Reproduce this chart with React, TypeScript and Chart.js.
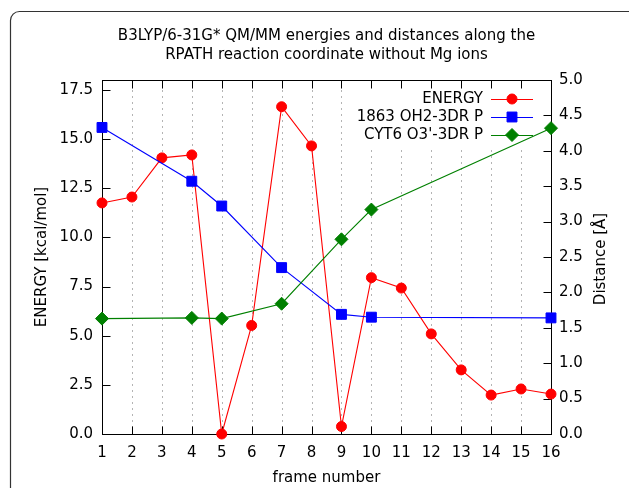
import React, { useEffect, useRef } from 'react';
import { Chart, registerables } from 'chart.js';

Chart.register(...registerables);

const FONT_FAMILY = "'DejaVu Sans', sans-serif";

const titleLines = [
  'B3LYP/6-31G* QM/MM energies and distances along the',
  'RPATH reaction coordinate without Mg ions',
];
const xAxisTitle = 'frame number';
const yAxisTitle = 'ENERGY [kcal/mol]';
const y2AxisTitle = 'Distance [Å]';

const frames = [1, 2, 3, 4, 5, 6, 7, 8, 9, 10, 11, 12, 13, 14, 15, 16];
const energy = [11.75, 12.05, 14.04, 14.19, 0.0, 5.52, 16.64, 14.65, 0.38, 7.95, 7.42, 5.09, 3.26, 1.98, 2.29, 2.03];

const distFrames = [1, 4, 5, 7, 9, 10, 16];
const dist1863 = [4.33, 3.57, 3.22, 2.35, 1.69, 1.65, 1.64];
const distCyt6 = [1.63, 1.64, 1.63, 1.84, 2.75, 3.17, 4.32];

const seriesLabels = ['ENERGY', '1863 OH2-3DR P', "CYT6 O3'-3DR P"];
const seriesColors = ['#ff0000', '#0000ff', '#008000'];
const seriesPointStyles = ['circle', 'rect', 'rectRot'];

const energyTicks = [0, 2.5, 5, 7.5, 10, 12.5, 15, 17.5];
const distanceTicks = [0, 0.5, 1, 1.5, 2, 2.5, 3, 3.5, 4, 4.5, 5];

const W = 629;
const H = 488;

function drawMarker(ctx: CanvasRenderingContext2D, style: string, x: number, y: number, color: string) {
  ctx.save();
  ctx.fillStyle = color;
  ctx.strokeStyle = color;
  ctx.lineWidth = 1;
  ctx.beginPath();
  if (style === 'circle') {
    ctx.arc(x, y, 5, 0, Math.PI * 2);
  } else if (style === 'rect') {
    const s = 7 * Math.SQRT1_2;
    ctx.rect(x - s, y - s, 2 * s, 2 * s);
  } else {
    const r = 6.5;
    ctx.moveTo(x, y - r);
    ctx.lineTo(x + r, y);
    ctx.lineTo(x, y + r);
    ctx.lineTo(x - r, y);
    ctx.closePath();
  }
  ctx.fill();
  ctx.stroke();
  ctx.restore();
}

const decorPlugin = {
  id: 'decor',
  beforeDraw(chart: any) {
    const ctx: CanvasRenderingContext2D = chart.ctx;
    ctx.save();
    ctx.fillStyle = '#ffffff';
    ctx.fillRect(0, 0, W, H);
    ctx.strokeStyle = '#333333';
    ctx.lineWidth = 1.2;
    ctx.beginPath();
    (ctx as any).roundRect(10.5, 11.5, 630, 520, 9);
    ctx.stroke();
    ctx.restore();
  },
  beforeDatasetsDraw(chart: any) {
    const ctx: CanvasRenderingContext2D = chart.ctx;
    const { left, right, top, bottom } = chart.chartArea;
    const xs = chart.scales.x;
    const ys = chart.scales.y;
    const y2s = chart.scales.y2;
    ctx.save();
    ctx.strokeStyle = '#b4b4b4';
    ctx.lineWidth = 1;
    ctx.setLineDash([2, 4]);
    frames.forEach((f) => {
      if (f === frames[0] || f === frames[frames.length - 1]) return;
      const x = Math.round(xs.getPixelForValue(f)) + 0.5;
      const inKey = x > 350 && x < 548;
      const yTop = inKey ? 146 : top;
      ctx.beginPath();
      ctx.moveTo(x, bottom);
      ctx.lineTo(x, yTop);
      ctx.stroke();
    });
    ctx.setLineDash([]);
    ctx.strokeStyle = '#000000';
    ctx.lineWidth = 1;
    const l = Math.round(left) + 0.5;
    const r = Math.round(right) + 0.5;
    const t = Math.round(top) + 0.5;
    const b = Math.round(bottom) + 0.5;
    ctx.strokeRect(l, t, r - l, b - t);
    const tl = 8;
    ctx.beginPath();
    frames.forEach((f) => {
      const x = Math.round(xs.getPixelForValue(f)) + 0.5;
      ctx.moveTo(x, b);
      ctx.lineTo(x, b - tl);
      ctx.moveTo(x, t);
      ctx.lineTo(x, t + tl);
    });
    energyTicks.forEach((v) => {
      const y = Math.round(ys.getPixelForValue(v)) + 0.5;
      ctx.moveTo(l, y);
      ctx.lineTo(l + tl, y);
    });
    distanceTicks.forEach((v) => {
      const y = Math.round(y2s.getPixelForValue(v)) + 0.5;
      ctx.moveTo(r, y);
      ctx.lineTo(r - tl, y);
    });
    ctx.stroke();
    ctx.restore();
  },
  afterDraw(chart: any) {
    const ctx: CanvasRenderingContext2D = chart.ctx;
    const { left, right, top, bottom } = chart.chartArea;
    const cx = (left + right) / 2;
    const cy = (top + bottom) / 2;
    ctx.save();
    ctx.fillStyle = '#000000';
    ctx.font = `15px ${FONT_FAMILY}`;
    ctx.textAlign = 'center';
    ctx.textBaseline = 'middle';
    ctx.fillText(titleLines[0], cx, 36);
    ctx.fillText(titleLines[1], cx, 55);
    ctx.fillText(xAxisTitle, cx, 478);
    ctx.save();
    ctx.translate(42, cy);
    ctx.rotate(-Math.PI / 2);
    ctx.fillText(yAxisTitle, 0, 0);
    ctx.restore();
    ctx.save();
    ctx.translate(601, cy + 2);
    ctx.rotate(-Math.PI / 2);
    ctx.fillText(y2AxisTitle, 0, 0);
    ctx.restore();
    const rowsY = [99, 117, 135];
    seriesLabels.forEach((label, i) => {
      const y = rowsY[i];
      ctx.textAlign = 'right';
      ctx.fillStyle = '#000000';
      ctx.fillText(label, 483, y);
      ctx.strokeStyle = seriesColors[i];
      ctx.lineWidth = 1;
      ctx.beginPath();
      ctx.moveTo(491, Math.round(y) + 0.5);
      ctx.lineTo(533, Math.round(y) + 0.5);
      ctx.stroke();
      drawMarker(ctx, seriesPointStyles[i], 512, y, seriesColors[i]);
    });
    ctx.restore();
  },
};

export default function App() {
  const canvasRef = useRef<HTMLCanvasElement | null>(null);

  useEffect(() => {
    if (!canvasRef.current) return;
    const tickFont = { family: FONT_FAMILY, size: 15 };
    const common = {
      borderWidth: 1.1,
      pointBorderWidth: 1,
      tension: 0,
      clip: false as any,
      fill: false,
    };
    const chart = new Chart(canvasRef.current, {
      type: 'line',
      data: {
        datasets: [
          {
            ...common,
            label: seriesLabels[0],
            data: frames.map((f, i) => ({ x: f, y: energy[i] })),
            yAxisID: 'y',
            borderColor: seriesColors[0],
            backgroundColor: seriesColors[0],
            pointBackgroundColor: seriesColors[0],
            pointBorderColor: seriesColors[0],
            pointStyle: 'circle',
            pointRadius: 5,
            order: 3,
          },
          {
            ...common,
            label: seriesLabels[1],
            data: distFrames.map((f, i) => ({ x: f, y: dist1863[i] })),
            yAxisID: 'y2',
            borderColor: seriesColors[1],
            backgroundColor: seriesColors[1],
            pointBackgroundColor: seriesColors[1],
            pointBorderColor: seriesColors[1],
            pointStyle: 'rect',
            pointRadius: 7,
            order: 2,
          },
          {
            ...common,
            label: seriesLabels[2],
            data: distFrames.map((f, i) => ({ x: f, y: distCyt6[i] })),
            yAxisID: 'y2',
            borderColor: seriesColors[2],
            backgroundColor: seriesColors[2],
            pointBackgroundColor: seriesColors[2],
            pointBorderColor: seriesColors[2],
            pointStyle: 'rectRot',
            pointRadius: 6.5,
            order: 1,
          },
        ],
      },
      options: {
        responsive: false,
        animation: false,
        events: [],
        layout: { padding: { top: 80, left: 0, right: 0, bottom: 0 } },
        plugins: {
          legend: { display: false },
          title: { display: false },
          tooltip: { enabled: false },
        },
        scales: {
          x: {
            type: 'linear',
            min: 1,
            max: 16,
            afterBuildTicks: (s: any) => {
              s.ticks = frames.map((v) => ({ value: v }));
            },
            afterFit: (s: any) => {
              s.height = 54;
            },
            grid: { display: false, drawTicks: false },
            border: { display: false },
            ticks: {
              font: tickFont,
              color: '#000000',
              padding: 10,
              maxRotation: 0,
              autoSkip: false,
              callback: (v: any) => String(v),
            },
          },
          y: {
            type: 'linear',
            position: 'left',
            min: 0,
            max: 18,
            afterBuildTicks: (s: any) => {
              s.ticks = energyTicks.map((v) => ({ value: v }));
            },
            afterFit: (s: any) => {
              s.width = 102;
            },
            grid: { display: false, drawTicks: false },
            border: { display: false },
            ticks: {
              font: tickFont,
              color: '#000000',
              padding: 9,
              callback: (v: any) => Number(v).toFixed(1),
            },
          },
          y2: {
            type: 'linear',
            position: 'right',
            min: 0,
            max: 5,
            afterBuildTicks: (s: any) => {
              s.ticks = distanceTicks.map((v) => ({ value: v }));
            },
            afterFit: (s: any) => {
              s.width = 78;
            },
            grid: { display: false, drawTicks: false },
            border: { display: false },
            ticks: {
              font: tickFont,
              color: '#000000',
              padding: 8,
              callback: (v: any) => Number(v).toFixed(1),
            },
          },
        },
      },
      plugins: [decorPlugin],
    } as any);
    return () => {
      chart.destroy();
    };
  }, []);

  return (
    <div style={{ position: 'fixed', left: 0, top: 0, width: W, height: H, overflow: 'hidden', background: '#fff' }}>
      <canvas ref={canvasRef} width={W} height={H} style={{ display: 'block', width: W, height: H }} />
    </div>
  );
}
